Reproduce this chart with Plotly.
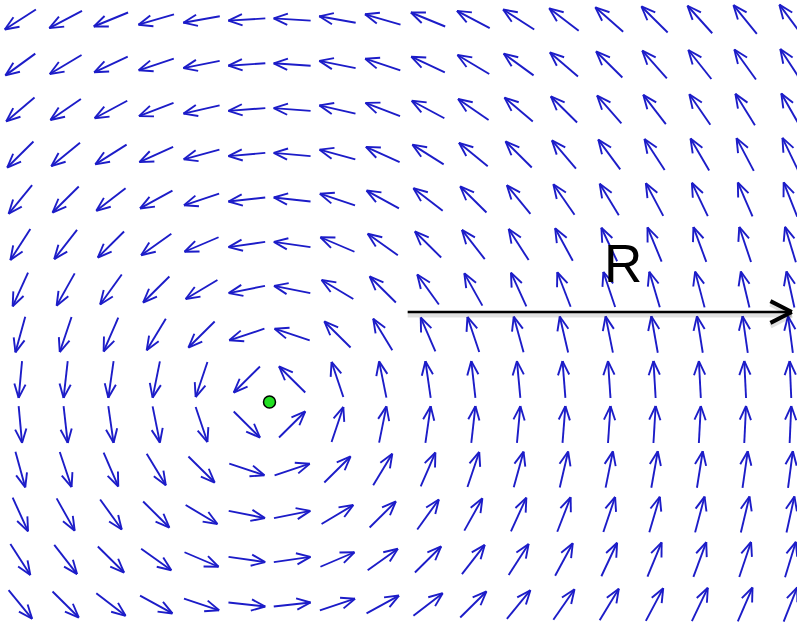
import numpy as np
import plotly.graph_objects as go

# Sample grid of the vortex field (grid units, vortex core at the origin)
x_grid = [-5.5, -4.5, -3.5, -2.5, -1.5, -0.5, 0.5, 1.5, 2.5, 3.5, 4.5,
          5.5, 6.5, 7.5, 8.5, 9.5, 10.5, 11.5]
y_grid = [8.5, 7.5, 6.5, 5.5, 4.5, 3.5, 2.5, 1.5, 0.5, -0.5, -1.5,
          -2.5, -3.5, -4.5]
core = (0.0, 0.0)
radius_start = (3.05, 2.0)
radius_end = (11.53, 2.0)
radius_label = "R"
label_pos = (7.8, 3.08)

# pixel size of one grid unit, used so arrow geometry looks right on screen
SX, SY = 45.3, 45.0
ARROW_PX = 37.0
HEAD_PX = 15.0
HEAD_ANG = np.radians(22)


def arrow_segments(x0, y0, x1, y1, head_px, ang):
    """Return polyline coords (shaft + open V head) for one arrow."""
    dx_px = (x1 - x0) * SX
    dy_px = (y1 - y0) * SY
    n = np.hypot(dx_px, dy_px)
    ux, uy = -dx_px / n, -dy_px / n  # pointing back along the shaft
    xs = [x0, x1, None]
    ys = [y0, y1, None]
    for s in (1, -1):
        c, si = np.cos(s * ang), np.sin(s * ang)
        rx = ux * c - uy * si
        ry = ux * si + uy * c
        xs += [x1 + rx * head_px / SX, x1, None]
        ys += [y1 + ry * head_px / SY, y1, None]
    return xs, ys


fx, fy = [], []
for yv in y_grid:
    for xv in x_grid:
        rx, ry = xv - core[0], yv - core[1]
        # counter-clockwise circulation: direction perpendicular to the radius
        vx_px, vy_px = -ry * SX, rx * SY
        n = np.hypot(vx_px, vy_px)
        hx = vx_px / n * ARROW_PX / 2 / SX
        hy = vy_px / n * ARROW_PX / 2 / SY
        xs, ys = arrow_segments(xv - hx, yv - hy, xv + hx, yv + hy,
                                HEAD_PX, HEAD_ANG)
        fx += xs
        fy += ys

fig = go.Figure()
fig.add_trace(go.Scatter(
    x=fx, y=fy, mode="lines",
    line=dict(color="#1c1cc8", width=1.9),
    hoverinfo="skip", showlegend=False))

# radius arrow with a soft drop shadow
sx, sy = arrow_segments(radius_start[0], radius_start[1],
                        radius_end[0], radius_end[1], 24, np.radians(27))
fig.add_trace(go.Scatter(
    x=sx, y=[(v - 3 / SY) if v is not None else None for v in sy],
    mode="lines", line=dict(color="rgba(0,0,0,0.12)", width=5),
    hoverinfo="skip", showlegend=False))
fig.add_trace(go.Scatter(
    x=sx[:3], y=sy[:3], mode="lines",
    line=dict(color="black", width=2.5),
    hoverinfo="skip", showlegend=False))
fig.add_trace(go.Scatter(
    x=sx[3:], y=sy[3:], mode="lines",
    line=dict(color="black", width=4),
    hoverinfo="skip", showlegend=False))

# vortex core
fig.add_trace(go.Scatter(
    x=[core[0]], y=[core[1]], mode="markers",
    marker=dict(color="#22e022", size=12,
                line=dict(color="black", width=1.5)),
    hoverinfo="skip", showlegend=False))

fig.add_annotation(
    x=label_pos[0], y=label_pos[1], text=radius_label, showarrow=False,
    font=dict(family="Liberation Sans, Arial, sans-serif", size=53,
              color="black"))

fig.update_layout(
    width=797, height=626,
    margin=dict(l=0, r=0, t=0, b=0),
    paper_bgcolor="white", plot_bgcolor="white",
    xaxis=dict(range=[-269.5 / SX, (797 - 269.5) / SX], visible=False,
               fixedrange=True),
    yaxis=dict(range=[(402 - 626) / SY, 402 / SY], visible=False,
               fixedrange=True),
)

fig.write_html("out.html")
